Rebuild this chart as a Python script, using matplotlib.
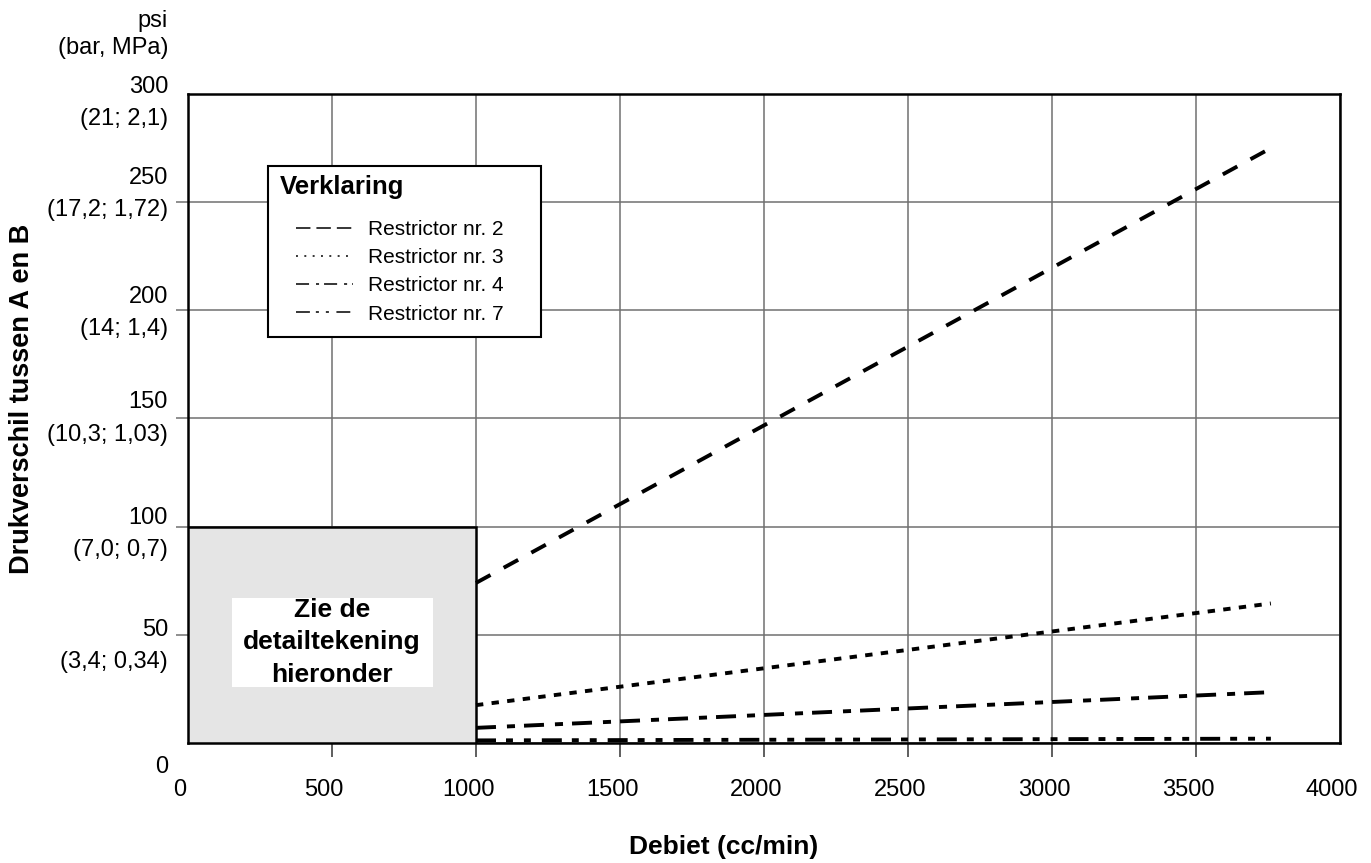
import matplotlib
matplotlib.use("Agg")
import matplotlib.pyplot as plt
import matplotlib.transforms as mtransforms
from matplotlib.lines import Line2D
from matplotlib.patches import Rectangle

plt.rcParams['font.family'] = ['Liberation Sans', 'DejaVu Sans']
plt.rcParams['lines.scale_dashes'] = False

# ---------------- data ----------------
flow_cc_min = [1000, 3760]
r2_psi = [74.0, 275.0]
r3_psi = [17.5, 64.5]
r4_psi = [7.0, 23.5]
r7_psi = [1.2, 2.0]
series_labels = ["Restrictor nr. 2", "Restrictor nr. 3", "Restrictor nr. 4", "Restrictor nr. 7"]

x_ticks = [0, 500, 1000, 1500, 2000, 2500, 3000, 3500, 4000]
y_ticks = [0, 50, 100, 150, 200, 250, 300]
y_tick_secondary = ["", "(3,4; 0,34)", "(7,0; 0,7)", "(10,3; 1,03)",
                    "(14; 1,4)", "(17,2; 1,72)", "(21; 2,1)"]
detail_x_max = 1000
detail_y_max = 100

# ---------------- figure ----------------
W, H = 1371, 863
fig = plt.figure(figsize=(W / 100, H / 100), dpi=100)
L, R, T, B = 188, 1340, 94, 743
ax = fig.add_axes([L / W, 1 - B / H, (R - L) / W, (B - T) / H])
ax.set_xlim(0, 4000)
ax.set_ylim(0, 300)
axw, axh = R - L, B - T

for s in ax.spines.values():
    s.set_linewidth(1.8)
    s.set_color('black')

ax.set_xticks(x_ticks)
ax.set_yticks(y_ticks)
ax.grid(True, color='#707070', linewidth=1.1)
ax.set_xticklabels([str(v) for v in x_ticks], fontsize=17)
ax.tick_params(axis='x', length=10, width=1.1, color='#333333', pad=16)
ax.tick_params(axis='y', length=8.6, width=1.1, color='#707070', labelleft=False)
xt = ax.xaxis.get_major_ticks()
xt[0].tick1line.set_visible(False)
xt[-1].tick1line.set_visible(False)
yt = ax.yaxis.get_major_ticks()
yt[0].tick1line.set_visible(False)
yt[-1].tick1line.set_visible(False)
shift = mtransforms.ScaledTranslation(-8 / 100, 0, fig.dpi_scale_trans)
for t in xt:
    t.label1.set_transform(t.label1.get_transform() + shift)

# y tick labels (two lines, psi and bar/MPa)
num_offsets = [24, -5, -9, -16, -13, -24, -7]
ytrans = ax.get_yaxis_transform()
for v, sec, off in zip(y_ticks, y_tick_secondary, num_offsets):
    t1 = mtransforms.offset_copy(ytrans, fig=fig, x=0, y=-off, units='dots')
    ax.text(-20 / axw, v, str(v), transform=t1, ha='right', va='center', fontsize=17)
    if sec:
        t2 = mtransforms.offset_copy(ytrans, fig=fig, x=0, y=-(off + 32), units='dots')
        ax.text(-20 / axw, v, sec, transform=t2, ha='right', va='center', fontsize=17)

ax.text(-20 / axw, (B - 21) / axh, 'psi', transform=ax.transAxes, ha='right', va='center', fontsize=17)
ax.text(-20 / axw, (B - 48) / axh, '(bar, MPa)', transform=ax.transAxes, ha='right', va='center', fontsize=17)

ax.set_xlabel('Debiet (cc/min)', fontsize=19, fontweight='bold')
ax.xaxis.set_label_coords(0.465, (B - 847) / axh)
ax.xaxis.label.set_va('center')
ax.set_ylabel('Drukverschil tussen A en B', fontsize=19.5, fontweight='bold')
ax.yaxis.set_label_coords((22.5 - L) / axw, (B - 399) / axh)
ax.yaxis.label.set_va('center')

# detail region
ax.add_patch(Rectangle((0, 0), detail_x_max, detail_y_max, facecolor='#e5e5e5',
                       edgecolor='black', linewidth=1.8, zorder=2.6))
ax.add_patch(Rectangle((153, 26), 698, 41, facecolor='white', edgecolor='none', zorder=2.7))
ax.text(detail_x_max / 2, 46.5, 'Zie de\ndetailtekening\nhieronder', ha='center', va='center',
        fontsize=19, fontweight='bold', linespacing=1.45, zorder=2.8)

# series
styles = [
    (r2_psi, (0, (11.9, 10.8))),
    (r3_psi, (0, (5.3, 6.0))),
    (r4_psi, (0, (14.4, 7.9, 5.8, 6.5))),
    (r7_psi, (0, (14.4, 7.2, 5.0, 7.9, 5.0, 7.9))),
]
for (vals, ls), lab in zip(styles, series_labels):
    ax.plot(flow_cc_min, vals, color='black', linewidth=2.8, linestyle=ls, label=lab, zorder=3)

# legend
ax.add_patch(Rectangle(((268 - L) / axw, (B - 337) / axh), 273 / axw, 171 / axh,
                       transform=ax.transAxes, facecolor='white', edgecolor='black',
                       linewidth=1.5, zorder=4.5))
ax.text((280 - L) / axw, (B - 187) / axh, 'Verklaring', transform=ax.transAxes,
        ha='left', va='center', fontsize=18.5, fontweight='bold', zorder=5)
leg_styles = [(0, (10.4, 4.3)), (0, (1.4, 4.6)), (0, (9.4, 5, 2.2, 3.6)),
              (0, (10, 4.3, 2.2, 5, 2.2, 5.4))]
handles = [Line2D([], [], color='black', linewidth=1.1, linestyle=ls) for ls in leg_styles]
leg = ax.legend(handles, series_labels, loc='upper left',
                bbox_to_anchor=((296 - L) / axw, (B - 220) / axh),
                frameon=False, fontsize=15, handlelength=2.74, handletextpad=0.72,
                borderpad=0, borderaxespad=0, labelspacing=0.44)
leg.set_zorder(5)

fig.savefig('out.png', dpi=100)
